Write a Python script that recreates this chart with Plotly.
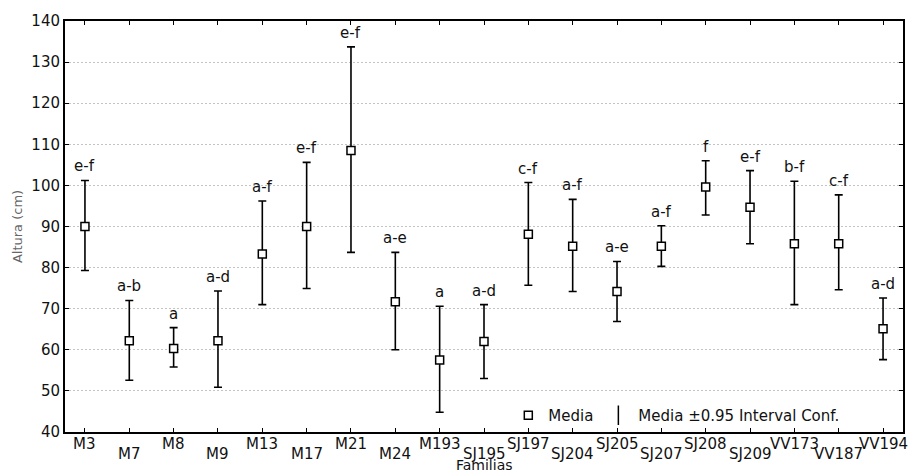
import plotly.graph_objects as go

categories = ["M3", "M7", "M8", "M9", "M13", "M17", "M21", "M24", "M193", "SJ195",
              "SJ197", "SJ204", "SJ205", "SJ207", "SJ208", "SJ209", "VV173", "VV187", "VV194"]
means = [90.0, 62.2, 60.3, 62.2, 83.3, 90.0, 108.5, 71.7, 57.5, 62.0,
         88.1, 85.2, 74.2, 85.2, 99.6, 94.7, 85.8, 85.8, 65.1]
upper = [101.2, 72.0, 65.4, 74.3, 96.2, 105.6, 133.7, 83.7, 70.6, 71.0,
         100.7, 96.6, 81.5, 90.2, 106.0, 103.6, 101.0, 97.7, 72.6]
lower = [79.3, 52.6, 55.8, 50.9, 71.0, 74.9, 83.7, 60.0, 44.8, 53.0,
         75.7, 74.2, 66.9, 80.3, 92.8, 85.8, 71.0, 74.6, 57.6]
groups = ["e-f", "a-b", "a", "a-d", "a-f", "e-f", "e-f", "a-e", "a", "a-d",
          "c-f", "a-f", "a-e", "a-f", "f", "e-f", "b-f", "c-f", "a-d"]
y_ticks = [40, 50, 60, 70, 80, 90, 100, 110, 120, 130, 140]

FONT = "DejaVu Sans"
idx = list(range(len(categories)))

fig = go.Figure()
fig.add_trace(go.Scatter(
    x=idx, y=means, mode="markers", name="Media",
    marker=dict(symbol="square", size=8, color="white",
                line=dict(color="black", width=1.5)),
    error_y=dict(type="data", symmetric=False,
                 array=[u - m for u, m in zip(upper, means)],
                 arrayminus=[m - l for m, l in zip(means, lower)],
                 color="black", thickness=1.6, width=4),
    showlegend=True,
))
fig.add_trace(go.Scatter(
    x=[None], y=[None], mode="markers", name="Media \u00b10.95 Interval Conf.",
    marker=dict(symbol="line-ns", size=14, color="black",
                line=dict(color="black", width=1.5)),
))

# group letters above upper bounds
for i, (u, g) in enumerate(zip(upper, groups)):
    fig.add_annotation(x=i, y=u, text=g, showarrow=False, yanchor="bottom",
                       yshift=3, font=dict(family=FONT, size=15, color="#111"))

# staggered category labels
for i, c in enumerate(categories):
    fig.add_annotation(x=i, y=0, yref="paper", text=c, showarrow=False,
                       yanchor="top", yshift=(-1 if i % 2 == 0 else -11),
                       font=dict(family=FONT, size=15, color="#111"))

fig.add_annotation(x=0.5, y=0, xref="paper", yref="paper", text="Familias",
                   showarrow=False, yanchor="top", yshift=-23,
                   font=dict(family=FONT, size=14, color="#111"))

fig.update_layout(
    width=917, height=474,
    margin=dict(l=65, r=12, t=17, b=42),
    plot_bgcolor="white", paper_bgcolor="white",
    font=dict(family=FONT, size=15, color="#111"),
    legend=dict(orientation="h", x=0.529, xanchor="left", y=0, yanchor="bottom",
                bgcolor="rgba(0,0,0,0)", font=dict(family=FONT, size=15, color="#111"),
                itemwidth=30, tracegroupgap=0),
    showlegend=True,
)
fig.update_xaxes(
    range=[-0.45, 18.45], tickmode="array", tickvals=idx, ticktext=[""] * len(idx),
    showticklabels=False, ticks="inside", ticklen=4, tickcolor="black",
    showline=True, linecolor="black", linewidth=2, mirror="ticks",
    showgrid=False, zeroline=False,
)
fig.update_yaxes(
    range=[40, 140], tickmode="array", tickvals=y_ticks,
    ticks="inside", ticklen=4, tickcolor="black",
    showline=True, linecolor="black", linewidth=2, mirror="ticks",
    showgrid=True, gridcolor="#c4c4c4", griddash="2px,2px", gridwidth=1,
    zeroline=False, tickfont=dict(family=FONT, size=15, color="#111"),
    title=dict(text="Altura (cm)", font=dict(family=FONT, size=13, color="#666"),
               standoff=6),
)

fig.write_html("out.html", config={"displayModeBar": False},
               post_script="document.body.style.margin='0';")
